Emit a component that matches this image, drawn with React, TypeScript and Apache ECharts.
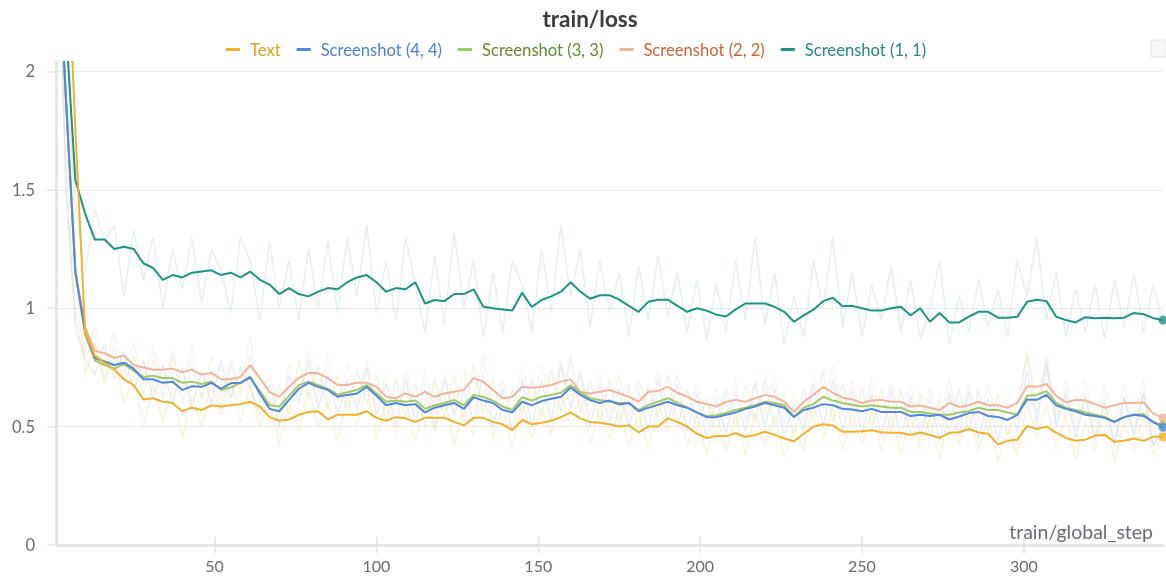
import React, { useEffect, useRef } from "react";
import * as echarts from "echarts";

const steps = [
  1, 4, 7, 10, 13, 16, 19, 22, 25, 28,
  31, 34, 37, 40, 43, 46, 49, 52, 55, 58,
  61, 64, 67, 70, 73, 76, 79, 82, 85, 88,
  91, 94, 97, 100, 103, 106, 109, 112, 115, 118,
  121, 124, 127, 130, 133, 136, 139, 142, 145, 148,
  151, 154, 157, 160, 163, 166, 169, 172, 175, 178,
  181, 184, 187, 190, 193, 196, 199, 202, 205, 208,
  211, 214, 217, 220, 223, 226, 229, 232, 235, 238,
  241, 244, 247, 250, 253, 256, 259, 262, 265, 268,
  271, 274, 277, 280, 283, 286, 289, 292, 295, 298,
  301, 304, 307, 310, 313, 316, 319, 322, 325, 328,
  331, 334, 337, 340, 343,
];

const yTicks = [0, 0.5, 1, 1.5, 2];
const xTicks = [50, 100, 150, 200, 250, 300];

// smoothed curves
const textSmooth = [
  3.6, 2.7, 1.75, 0.9, 0.8, 0.77, 0.74, 0.7, 0.675, 0.615,
  0.62, 0.605, 0.6, 0.565, 0.58, 0.57, 0.59, 0.585, 0.59, 0.595,
  0.605, 0.585, 0.54, 0.525, 0.53, 0.55, 0.562, 0.565, 0.53, 0.55,
  0.55, 0.55, 0.565, 0.537, 0.525, 0.54, 0.535, 0.52, 0.537, 0.537,
  0.537, 0.52, 0.505, 0.537, 0.537, 0.52, 0.51, 0.485, 0.528, 0.51,
  0.516, 0.525, 0.54, 0.56, 0.535, 0.52, 0.516, 0.51, 0.5, 0.505,
  0.476, 0.5, 0.5, 0.535, 0.52, 0.5, 0.47, 0.452, 0.46, 0.46,
  0.472, 0.457, 0.465, 0.478, 0.465, 0.45, 0.438, 0.47, 0.5, 0.51,
  0.505, 0.478, 0.478, 0.48, 0.485, 0.476, 0.474, 0.474, 0.465, 0.475,
  0.465, 0.452, 0.474, 0.476, 0.49, 0.475, 0.47, 0.425, 0.44, 0.445,
  0.503, 0.49, 0.5, 0.475, 0.452, 0.44, 0.445, 0.462, 0.465, 0.436,
  0.44, 0.45, 0.44, 0.458, 0.457,
];
const s44Smooth = [
  2.7, 1.9, 1.15, 0.9, 0.79, 0.775, 0.76, 0.77, 0.745, 0.7,
  0.7, 0.685, 0.69, 0.655, 0.67, 0.668, 0.685, 0.66, 0.683, 0.685,
  0.71, 0.64, 0.575, 0.565, 0.613, 0.66, 0.685, 0.668, 0.655, 0.626,
  0.634, 0.64, 0.668, 0.63, 0.59, 0.6, 0.59, 0.595, 0.56, 0.58,
  0.59, 0.6, 0.575, 0.624, 0.61, 0.6, 0.57, 0.56, 0.605, 0.59,
  0.608, 0.618, 0.626, 0.665, 0.634, 0.612, 0.6, 0.61, 0.593, 0.6,
  0.565, 0.58, 0.592, 0.605, 0.59, 0.58, 0.56, 0.54, 0.54, 0.55,
  0.56, 0.575, 0.585, 0.6, 0.59, 0.58, 0.541, 0.57, 0.58, 0.595,
  0.59, 0.575, 0.572, 0.565, 0.575, 0.562, 0.562, 0.562, 0.545, 0.55,
  0.545, 0.55, 0.53, 0.543, 0.557, 0.562, 0.545, 0.541, 0.528, 0.55,
  0.615, 0.613, 0.634, 0.59, 0.575, 0.565, 0.55, 0.545, 0.537, 0.52,
  0.54, 0.55, 0.545, 0.52, 0.497,
];
const s33Smooth = [
  2.7, 1.9, 1.15, 0.89, 0.78, 0.76, 0.745, 0.765, 0.735, 0.71,
  0.715, 0.705, 0.705, 0.685, 0.69, 0.68, 0.69, 0.655, 0.665, 0.685,
  0.705, 0.65, 0.59, 0.585, 0.63, 0.675, 0.69, 0.675, 0.66, 0.635,
  0.645, 0.655, 0.675, 0.64, 0.605, 0.61, 0.605, 0.61, 0.575, 0.59,
  0.6, 0.613, 0.59, 0.634, 0.625, 0.61, 0.585, 0.57, 0.625, 0.61,
  0.626, 0.634, 0.643, 0.675, 0.645, 0.62, 0.612, 0.605, 0.6, 0.6,
  0.57, 0.592, 0.605, 0.62, 0.6, 0.58, 0.558, 0.545, 0.548, 0.558,
  0.57, 0.58, 0.592, 0.605, 0.6, 0.59, 0.541, 0.58, 0.595, 0.626,
  0.61, 0.6, 0.592, 0.585, 0.59, 0.585, 0.58, 0.58, 0.562, 0.562,
  0.555, 0.55, 0.55, 0.56, 0.565, 0.58, 0.57, 0.57, 0.56, 0.55,
  0.63, 0.634, 0.65, 0.6, 0.58, 0.57, 0.56, 0.55, 0.541, 0.52,
  0.54, 0.55, 0.553, 0.516, 0.507,
];
const s22Smooth = [
  2.7, 1.9, 1.16, 0.92, 0.82, 0.81, 0.79, 0.8, 0.76, 0.75,
  0.74, 0.74, 0.745, 0.73, 0.74, 0.72, 0.727, 0.7, 0.7, 0.71,
  0.76, 0.705, 0.645, 0.626, 0.668, 0.705, 0.727, 0.725, 0.705, 0.676,
  0.676, 0.685, 0.685, 0.668, 0.626, 0.62, 0.64, 0.626, 0.647, 0.626,
  0.64, 0.647, 0.655, 0.705, 0.69, 0.655, 0.62, 0.626, 0.668, 0.664,
  0.668, 0.676, 0.69, 0.7, 0.647, 0.64, 0.647, 0.655, 0.64, 0.626,
  0.605, 0.647, 0.65, 0.668, 0.643, 0.626, 0.605, 0.595, 0.585, 0.605,
  0.613, 0.605, 0.62, 0.634, 0.626, 0.605, 0.562, 0.605, 0.634, 0.668,
  0.643, 0.622, 0.615, 0.6, 0.61, 0.613, 0.605, 0.605, 0.585, 0.59,
  0.58, 0.57, 0.6, 0.583, 0.59, 0.605, 0.59, 0.59, 0.58, 0.6,
  0.67, 0.668, 0.68, 0.63, 0.603, 0.613, 0.61, 0.595, 0.58, 0.59,
  0.6, 0.6, 0.602, 0.555, 0.537,
];
const s11Smooth = [
  2.9, 2.2, 1.54, 1.4, 1.29, 1.29, 1.25, 1.26, 1.25, 1.19,
  1.17, 1.12, 1.14, 1.13, 1.15, 1.155, 1.16, 1.14, 1.15, 1.13,
  1.155, 1.12, 1.1, 1.06, 1.085, 1.06, 1.05, 1.07, 1.085, 1.08,
  1.11, 1.13, 1.14, 1.11, 1.07, 1.085, 1.08, 1.11, 1.02, 1.035,
  1.03, 1.06, 1.06, 1.08, 1.006, 1.0, 0.995, 0.99, 1.065, 1.005,
  1.035, 1.05, 1.07, 1.11, 1.07, 1.04, 1.055, 1.055, 1.036, 1.01,
  0.985, 1.027, 1.036, 1.036, 1.01, 0.985, 1.0, 0.99, 0.973, 0.965,
  0.995, 1.02, 1.02, 1.02, 1.006, 0.985, 0.943, 0.97, 0.994, 1.03,
  1.044, 1.008, 1.01, 1.0, 0.99, 0.99, 1.0, 1.006, 0.97, 1.0,
  0.943, 0.98, 0.94, 0.94, 0.965, 0.985, 0.985, 0.96, 0.96, 0.964,
  1.027, 1.036, 1.03, 0.964, 0.95, 0.94, 0.962, 0.958, 0.96, 0.958,
  0.96, 0.98, 0.975, 0.958, 0.95,
];

// raw (unsmoothed) values
const textRaw = [
  3.6, 2.5, 1.2, 0.72, 0.85, 0.68, 0.8, 0.6, 0.72, 0.5,
  0.68, 0.52, 0.66, 0.45, 0.63, 0.5, 0.68, 0.55, 0.7, 0.52,
  0.68, 0.5, 0.62, 0.42, 0.6, 0.48, 0.66, 0.5, 0.6, 0.44,
  0.62, 0.5, 0.68, 0.45, 0.6, 0.47, 0.62, 0.44, 0.6, 0.48,
  0.63, 0.42, 0.58, 0.46, 0.66, 0.45, 0.6, 0.4, 0.62, 0.45,
  0.58, 0.47, 0.65, 0.5, 0.62, 0.43, 0.58, 0.45, 0.57, 0.42,
  0.55, 0.4, 0.6, 0.48, 0.62, 0.42, 0.55, 0.38, 0.56, 0.4,
  0.55, 0.38, 0.56, 0.42, 0.55, 0.37, 0.5, 0.4, 0.6, 0.45,
  0.58, 0.4, 0.56, 0.42, 0.57, 0.4, 0.55, 0.38, 0.56, 0.4,
  0.54, 0.36, 0.58, 0.42, 0.56, 0.4, 0.55, 0.35, 0.5, 0.38,
  0.6, 0.45, 0.6, 0.4, 0.55, 0.36, 0.52, 0.4, 0.56, 0.35,
  0.52, 0.4, 0.55, 0.38, 0.47,
];
const s44Raw = [
  2.9, 1.5, 0.95, 0.78, 0.72, 0.85, 0.7, 0.82, 0.65, 0.78,
  0.62, 0.76, 0.6, 0.75, 0.58, 0.74, 0.6, 0.78, 0.62, 0.75,
  0.66, 0.55, 0.68, 0.5, 0.72, 0.6, 0.78, 0.58, 0.72, 0.55,
  0.7, 0.57, 0.75, 0.55, 0.68, 0.5, 0.7, 0.52, 0.66, 0.5,
  0.7, 0.55, 0.65, 0.52, 0.72, 0.5, 0.66, 0.48, 0.7, 0.5,
  0.7, 0.52, 0.76, 0.58, 0.72, 0.5, 0.68, 0.52, 0.66, 0.5,
  0.65, 0.48, 0.7, 0.52, 0.68, 0.48, 0.64, 0.45, 0.62, 0.47,
  0.65, 0.48, 0.68, 0.5, 0.66, 0.46, 0.6, 0.48, 0.68, 0.5,
  0.7, 0.48, 0.66, 0.47, 0.64, 0.46, 0.65, 0.45, 0.63, 0.46,
  0.62, 0.44, 0.64, 0.46, 0.65, 0.45, 0.62, 0.44, 0.6, 0.48,
  0.74, 0.52, 0.76, 0.5, 0.64, 0.45, 0.62, 0.44, 0.6, 0.42,
  0.62, 0.46, 0.64, 0.42, 0.49,
];
const s33Raw = [
  2.9, 1.6, 0.9, 0.8, 0.86, 0.7, 0.84, 0.68, 0.8, 0.64,
  0.78, 0.62, 0.8, 0.6, 0.76, 0.62, 0.74, 0.58, 0.76, 0.64,
  0.8, 0.6, 0.52, 0.68, 0.55, 0.78, 0.62, 0.76, 0.58, 0.72,
  0.56, 0.74, 0.6, 0.72, 0.52, 0.7, 0.54, 0.68, 0.5, 0.7,
  0.54, 0.72, 0.52, 0.76, 0.56, 0.7, 0.5, 0.66, 0.55, 0.7,
  0.54, 0.74, 0.56, 0.8, 0.56, 0.7, 0.52, 0.7, 0.5, 0.68,
  0.48, 0.68, 0.54, 0.72, 0.5, 0.66, 0.48, 0.62, 0.46, 0.66,
  0.5, 0.68, 0.52, 0.7, 0.5, 0.65, 0.45, 0.66, 0.52, 0.74,
  0.52, 0.68, 0.5, 0.66, 0.5, 0.66, 0.48, 0.66, 0.46, 0.64,
  0.46, 0.62, 0.48, 0.66, 0.48, 0.66, 0.47, 0.64, 0.46, 0.6,
  0.8, 0.56, 0.78, 0.52, 0.66, 0.48, 0.64, 0.46, 0.62, 0.44,
  0.63, 0.48, 0.65, 0.42, 0.5,
];
const s22Raw = [
  2.8, 1.7, 1.0, 0.82, 0.92, 0.75, 0.9, 0.72, 0.86, 0.68,
  0.84, 0.66, 0.82, 0.65, 0.84, 0.62, 0.8, 0.62, 0.78, 0.66,
  0.88, 0.62, 0.72, 0.55, 0.76, 0.64, 0.82, 0.64, 0.8, 0.6,
  0.76, 0.6, 0.78, 0.58, 0.72, 0.55, 0.74, 0.56, 0.74, 0.55,
  0.72, 0.57, 0.74, 0.6, 0.8, 0.56, 0.7, 0.55, 0.76, 0.58,
  0.76, 0.6, 0.78, 0.62, 0.74, 0.55, 0.72, 0.57, 0.72, 0.54,
  0.7, 0.55, 0.74, 0.58, 0.72, 0.54, 0.68, 0.52, 0.66, 0.53,
  0.7, 0.53, 0.7, 0.55, 0.72, 0.52, 0.64, 0.52, 0.72, 0.58,
  0.76, 0.54, 0.7, 0.52, 0.7, 0.53, 0.68, 0.52, 0.68, 0.5,
  0.66, 0.5, 0.7, 0.5, 0.68, 0.52, 0.68, 0.5, 0.66, 0.52,
  0.82, 0.6, 0.8, 0.55, 0.7, 0.52, 0.7, 0.5, 0.68, 0.5,
  0.68, 0.52, 0.7, 0.46, 0.54,
];
const s11Raw = [
  3.0, 2.0, 1.45, 1.15, 1.42, 1.28, 1.35, 1.05, 1.33, 1.12,
  1.3, 1.0, 1.25, 1.08, 1.3, 1.02, 1.25, 1.16, 0.98, 1.3,
  1.2, 0.95, 1.28, 1.0, 1.2, 0.95, 1.25, 1.0, 1.28, 0.98,
  1.3, 1.05, 1.35, 0.98, 1.2, 0.95, 1.3, 1.1, 0.9, 1.22,
  0.93, 1.32, 1.0, 1.2, 0.88, 1.15, 0.9, 1.2, 1.1, 0.9,
  1.25, 0.98, 1.35, 1.05, 1.25, 0.92, 1.2, 0.98, 1.15, 0.88,
  1.18, 0.95, 1.22, 0.97, 1.15, 0.9, 1.12, 0.87, 1.1, 0.9,
  1.2, 0.95, 1.3, 0.93, 1.15, 0.85, 1.05, 0.88, 1.2, 1.0,
  1.3, 0.92, 1.15, 0.88, 1.1, 0.95, 1.18, 0.9, 1.12, 0.87,
  1.0, 1.2, 0.85, 1.05, 0.9, 1.12, 0.92, 1.08, 0.88, 1.2,
  1.05, 1.3, 0.95, 1.15, 0.88, 1.08, 0.9, 1.1, 0.87, 1.12,
  0.92, 1.15, 0.9, 1.1, 0.93,
];

const names = ["Text", "Screenshot (4, 4)", "Screenshot (3, 3)", "Screenshot (2, 2)", "Screenshot (1, 1)"];
const lineColors = ["#f0b12e", "#5387dd", "#a2c964", "#f0b59c", "#1f9384"];
const labelColors = ["#e5a11e", "#4a82de", "#5e8c2f", "#d2612c", "#26897e"];

const FONT = "Lato";

export default function App() {
  const ref = useRef<HTMLDivElement>(null);
  useEffect(() => {
    const chart = echarts.init(ref.current!, null, { renderer: "svg" });
    const pair = (arr: number[]) => steps.map((s, i) => [s, arr[i]]);
    const smooth = [textSmooth, s44Smooth, s33Smooth, s22Smooth, s11Smooth];
    const raw = [textRaw, s44Raw, s33Raw, s22Raw, s11Raw];
    const rawOpacity = [0.16, 0.14, 0.16, 0.16, 0.12];
    const drawOrder = [4, 3, 2, 1, 0];

    const series: any[] = [];
    drawOrder.forEach((k) => {
      series.push({
        name: names[k] + " raw",
        type: "line",
        data: pair(raw[k]),
        symbol: "none",
        silent: true,
        lineStyle: { color: lineColors[k], width: 1.5, opacity: rawOpacity[k] },
        z: 1,
      });
    });
    drawOrder.forEach((k) => {
      series.push({
        name: names[k],
        type: "line",
        data: pair(smooth[k]),
        symbol: "none",
        color: lineColors[k],
        lineStyle: { color: lineColors[k], width: 2 },
        z: 3,
      });
    });
    series.push({
      type: "scatter",
      name: "ends",
      symbolSize: 9,
      clip: false,
      silent: true,
      z: 4,
      data: drawOrder.map((k) => ({
        value: [steps[steps.length - 1], smooth[k][smooth[k].length - 1]],
        itemStyle: { color: lineColors[k] },
      })),
    });

    chart.setOption({
      animation: false,
      textStyle: { fontFamily: FONT },
      grid: { left: 56, right: 3, top: 62, bottom: 38, containLabel: false },
      legend: {
        left: 221,
        top: 36,
        icon: "rect",
        itemWidth: 14,
        itemHeight: 3,
        itemGap: 16,
        textStyle: { fontSize: 16.6, fontFamily: FONT, padding: [0, 0, 0, 5] },
        data: names.map((n, i) => ({ name: n, textStyle: { color: labelColors[i] } })),
      },
      xAxis: [
        {
          type: "value",
          min: 1,
          max: 343,
          axisLine: { lineStyle: { color: "#e6e6e9", width: 3 } },
          axisTick: { customValues: xTicks, length: 8, lineStyle: { color: "#e0e0e3", width: 1.5 } },
          axisLabel: {
            customValues: xTicks,
            margin: 12,
            fontSize: 16,
            color: "#6b6b76",
            fontFamily: FONT,
          },
          splitLine: { show: false },
        },
        {
          type: "value",
          min: 1,
          max: 343,
          position: "bottom",
          axisLine: { show: false },
          axisTick: { customValues: xTicks, inside: true, length: 8, lineStyle: { color: "#e0e0e3", width: 1.5 } },
          axisLabel: { show: false },
          splitLine: { show: false },
        },
      ],
      yAxis: {
        type: "value",
        min: 0,
        max: 2.04,
        axisLine: { show: true, lineStyle: { color: "#e6e6e9", width: 3 } },
        axisTick: { show: true, customValues: yTicks, length: 9, lineStyle: { color: "#e6e6e9", width: 1.5 } },
        axisLabel: {
          customValues: yTicks,
          margin: 21,
          fontSize: 16.5,
          color: "#6b6b76",
          fontFamily: FONT,
          formatter: (v: number) => String(v),
        },
        splitLine: { show: true, lineStyle: { color: "#ededed", width: 1 } },
      },
      graphic: [
        {
          type: "text",
          x: 590,
          y: 18,
          style: {
            text: "train/loss",
            font: `bold 22.5px ${FONT}`,
            fill: "#3b3b40",
            textAlign: "center",
            textVerticalAlign: "middle",
          },
        },
        {
          type: "text",
          x: 1153,
          y: 531,
          style: {
            text: "train/global_step",
            font: `19.5px ${FONT}`,
            fill: "#6b6b76",
            textAlign: "right",
            textVerticalAlign: "middle",
          },
        },
        {
          type: "rect",
          shape: { x: 1151, y: 40, width: 15, height: 17 },
          style: { fill: "#f8f8f8", stroke: "#e6e6e6", lineWidth: 1 },
          silent: true,
        },
      ],
      series,
    });
    return () => chart.dispose();
  }, []);
  return <div ref={ref} style={{ position: "fixed", left: 0, top: 0, width: 1166, height: 583 }} />;
}
